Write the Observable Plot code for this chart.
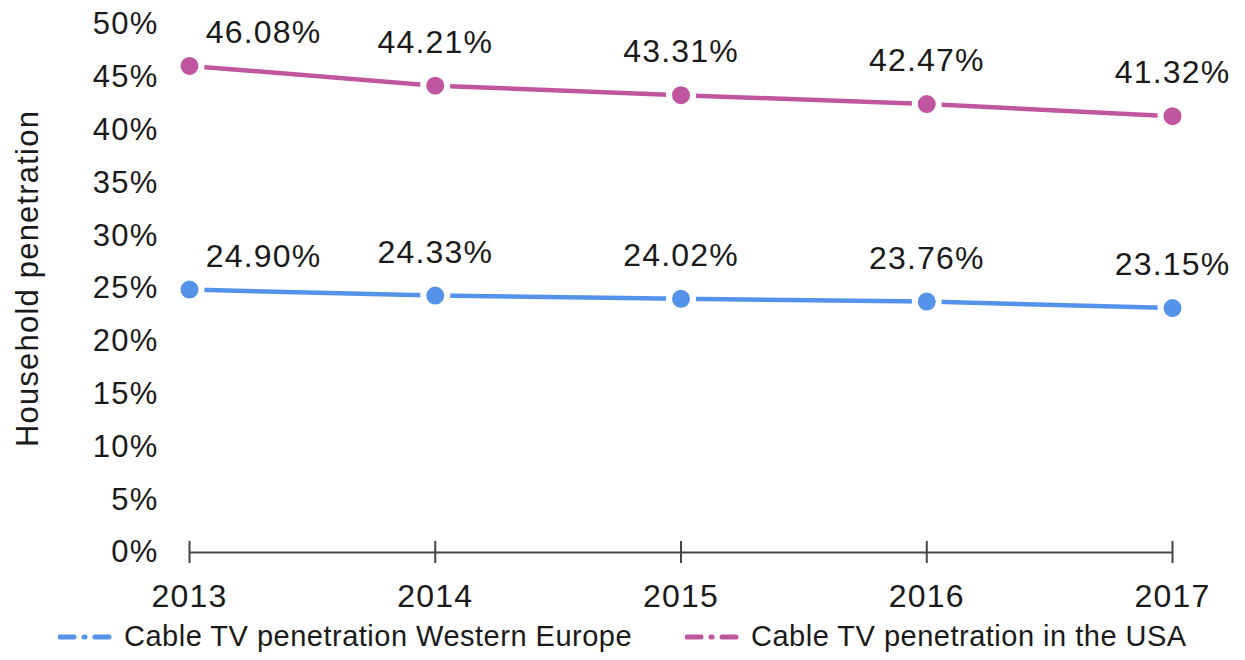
<!DOCTYPE html>
<html>
<head>
<meta charset="utf-8">
<script src="https://cdn.jsdelivr.net/npm/d3@7"></script>
<script src="https://cdn.jsdelivr.net/npm/@observablehq/plot@0.6"></script>
<style>
  html, body { margin: 0; padding: 0; background: #fff; }
  #wrap { position: relative; width: 1245px; height: 660px; font-family: "Liberation Sans", Arial, sans-serif; }
  .leg { position: absolute; top: 620px; display: flex; align-items: center; font-size: 29px; letter-spacing: 0.5px; color: #1a1a1a; white-space: nowrap; }
  .leg svg { margin-right: 4px; }
</style>
</head>
<body>
<div id="wrap"></div>
<script>
const years = [2013, 2014, 2015, 2016, 2017];
const europe = [24.90, 24.33, 24.02, 23.76, 23.15];
const usa = [46.08, 44.21, 43.31, 42.47, 41.32];
const seriesNames = ["Cable TV penetration Western Europe", "Cable TV penetration in the USA"];
const seriesColors = ["#5592EA", "#C0569F"];
const yTicks = [0, 5, 10, 15, 20, 25, 30, 35, 40, 45, 50];
const yLabel = "Household penetration";

const rows = [];
years.forEach((yr, i) => {
  rows.push({year: yr, value: europe[i], series: seriesNames[0]});
  rows.push({year: yr, value: usa[i], series: seriesNames[1]});
});
const first = rows.filter(d => d.year === years[0]);
const rest = rows.filter(d => d.year !== years[0]);
const fmt = v => v.toFixed(2) + "%";

const chart = Plot.plot({
  width: 1245,
  height: 620,
  marginLeft: 189,
  marginRight: 73,
  marginTop: 24,
  marginBottom: 68,
  style: {fontFamily: "Liberation Sans, Arial, sans-serif", fontSize: "32px", letterSpacing: "1.2px", color: "#1a1a1a", background: "#fff"},
  x: {domain: [years[0], years[years.length - 1]]},
  y: {domain: [0, 50]},
  color: {domain: seriesNames, range: seriesColors},
  marks: [
    Plot.axisY({ticks: yTicks, tickSize: 0, tickPadding: 31, tickFormat: d => d + "%", label: null, fontSize: 31}),
    Plot.axisX({ticks: years, tickFormat: d => String(d), tickSize: 11, tickPadding: 21, label: null, stroke: "#444", strokeWidth: 2, fontSize: 32}),
    Plot.ruleX(years, {x: d => d, y1: 0, y2: 1.05, stroke: "#444", strokeWidth: 2}),
    Plot.ruleY([0], {stroke: "#444", strokeWidth: 2}),
    Plot.text([yLabel], {frameAnchor: "left", textAnchor: "middle", rotate: -90, dx: -161, dy: -10, fontSize: 31, fill: "#1a1a1a"}),
    Plot.line(rows, {x: "year", y: "value", z: "series", stroke: "series", strokeWidth: 4.5}),
    Plot.dot(rows, {x: "year", y: "value", fill: "series", r: 12, stroke: "white", strokeWidth: 6}),
    Plot.text(first, {x: "year", y: "value", text: d => fmt(d.value), dx: 74, dy: -33, fontSize: 32, fill: "#1a1a1a"}),
    Plot.text(rest, {x: "year", y: "value", text: d => fmt(d.value), dy: -43, fontSize: 32, fill: "#1a1a1a"})
  ]
});

const wrap = document.getElementById("wrap");
wrap.appendChild(chart);

const legLeft = [58, 685];
seriesNames.forEach((name, i) => {
  const item = document.createElement("div");
  item.className = "leg";
  item.style.left = legLeft[i] + "px";
  const c = seriesColors[i];
  item.innerHTML = `<svg width="62" height="12"><line x1="2" y1="6" x2="60" y2="6" stroke="${c}" stroke-width="5" stroke-linecap="round" stroke-dasharray="14 10 1 10 14"/></svg><span>${name}</span>`;
  wrap.appendChild(item);
});
</script>
</body>
</html>
